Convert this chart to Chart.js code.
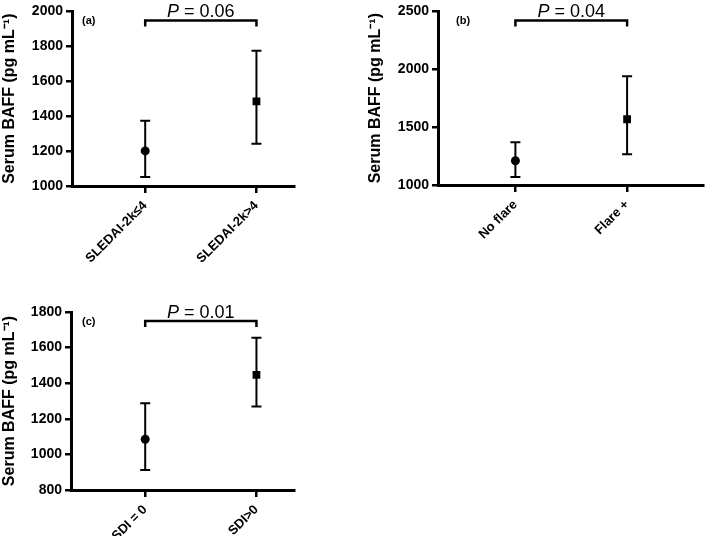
<!DOCTYPE html>
<html>
<head>
<meta charset="utf-8">
<script src="https://cdn.jsdelivr.net/npm/chart.js@4.4.1/dist/chart.umd.min.js"></script>
<style>
  body { margin: 0; background: #fff; }
  #wrap { position: relative; width: 709px; height: 536px; overflow: hidden; }
  canvas { position: absolute; }
</style>
</head>
<body>
<div id="wrap">
  <canvas id="chartA" width="300" height="265" style="left:0;top:0"></canvas>
  <canvas id="chartB" width="343" height="265" style="left:366px;top:0"></canvas>
  <canvas id="chartC" width="300" height="241" style="left:0;top:295px"></canvas>
</div>
<script>
// panel (a)
const categoriesA = ['SLEDAI-2k\u22644', 'SLEDAI-2k>4'];
const meanA = [1201, 1485];
const lowA = [1052, 1242];
const highA = [1374, 1775];
const ticksA = [1000, 1200, 1400, 1600, 1800, 2000];

// panel (b)
const categoriesB = ['No flare', 'Flare +'];
const meanB = [1210, 1568];
const lowB = [1070, 1266];
const highB = [1370, 1940];
const ticksB = [1000, 1500, 2000, 2500];

// panel (c)
const categoriesC = ['SDI = 0', 'SDI>0'];
const meanC = [1085, 1447];
const lowC = [913, 1269];
const highC = [1288, 1656];
const ticksC = [800, 1000, 1200, 1400, 1600, 1800];

const pValues = ['0.06', '0.04', '0.01'];
const panelLabels = ['(a)', '(b)', '(c)'];

// error bars + bracket + panel label
const annotPlugin = {
    id: 'annot',
    beforeDatasetsDraw(chart, args, opts) {
        const ctx = chart.ctx;
        const xs = chart.scales.x, ys = chart.scales.y;
        ctx.save();
        ctx.strokeStyle = '#000';
        ctx.lineWidth = 2;
        opts.low.forEach((lo, i) => {
            const x = xs.getPixelForValue(i + 1);
            const y1 = ys.getPixelForValue(lo);
            const y2 = ys.getPixelForValue(opts.high[i]);
            ctx.beginPath();
            ctx.moveTo(x, y1); ctx.lineTo(x, y2);
            ctx.moveTo(x - 5, y1); ctx.lineTo(x + 5, y1);
            ctx.moveTo(x - 5, y2); ctx.lineTo(x + 5, y2);
            ctx.stroke();
        });
        ctx.restore();
    },
    afterDraw(chart, args, opts) {
        const ctx = chart.ctx;
        const xs = chart.scales.x;
        const top = chart.chartArea.top;
        const x1 = xs.getPixelForValue(1), x2 = xs.getPixelForValue(2);
        ctx.save();
        ctx.strokeStyle = '#000';
        ctx.lineWidth = 2.5;
        ctx.beginPath();
        ctx.moveTo(x1, top + 15); ctx.lineTo(x1, top + 9);
        ctx.lineTo(x2, top + 9); ctx.lineTo(x2, top + 15);
        ctx.stroke();
        // P = value
        ctx.fillStyle = '#000';
        ctx.textBaseline = 'alphabetic';
        const italic = 'italic 18px "Liberation Sans", Arial, sans-serif';
        const normal = '18px "Liberation Sans", Arial, sans-serif';
        ctx.font = italic;
        const wP = ctx.measureText('P').width;
        ctx.font = normal;
        const rest = ' = ' + opts.p;
        const wR = ctx.measureText(rest).width;
        let tx = (x1 + x2) / 2 - (wP + wR) / 2;
        ctx.font = italic;
        ctx.fillText('P', tx, top + 6);
        ctx.font = normal;
        ctx.fillText(rest, tx + wP, top + 6);
        // panel label
        ctx.font = 'bold 11px "Liberation Sans", Arial, sans-serif';
        ctx.fillText(opts.label, chart.chartArea.left + opts.labelDx, top + 13);
        ctx.restore();
    }
};

function makeChart(id, cats, mean, low, high, yTicks, p, label, labelDx, xMin, xMax, yWidth, xHeight, padTop) {
    const font = { family: '"Liberation Sans", Arial, sans-serif', weight: 'bold' };
    return new Chart(document.getElementById(id), {
        type: 'scatter',
        data: {
            datasets: [{
                data: mean.map((v, i) => ({ x: i + 1, y: v })),
                pointStyle: ['circle', 'rect'],
                pointRadius: [4.5, 5.5],
                backgroundColor: '#000',
                borderColor: '#000',
                borderWidth: 0
            }]
        },
        options: {
            responsive: false,
            animation: false,
            layout: { padding: { top: padTop, right: 0, left: 0, bottom: 0 } },
            plugins: {
                legend: { display: false },
                tooltip: { enabled: false },
                annot: { low: low, high: high, p: p, label: label, labelDx: labelDx }
            },
            scales: {
                x: {
                    type: 'linear',
                    min: xMin,
                    max: xMax,
                    afterBuildTicks: s => { s.ticks = [{ value: 1 }, { value: 2 }]; },
                    afterFit: s => { s.height = xHeight; },
                    ticks: {
                        callback: v => cats[v - 1],
                        color: '#000',
                        font: Object.assign({ size: 13 }, font),
                        maxRotation: 45,
                        minRotation: 45,
                        padding: 5
                    },
                    grid: { drawOnChartArea: false, drawTicks: true, tickLength: 7, lineWidth: 2.5, color: '#000' },
                    border: { display: true, color: '#000', width: 3 }
                },
                y: {
                    min: yTicks[0],
                    max: yTicks[yTicks.length - 1],
                    afterBuildTicks: s => { s.ticks = yTicks.map(v => ({ value: v })); },
                    afterFit: s => { s.width = yWidth; },
                    ticks: {
                        callback: v => String(v),
                        color: '#000',
                        font: Object.assign({ size: 14 }, font),
                        padding: 3
                    },
                    grid: { drawOnChartArea: false, drawTicks: true, tickLength: 6, lineWidth: 2.5, color: '#000' },
                    border: { display: true, color: '#000', width: 3 },
                    title: {
                        display: true,
                        text: 'Serum BAFF (pg mL\u207B\u00B9)',
                        color: '#000',
                        font: Object.assign({ size: 16 }, font),
                        padding: { top: 0, bottom: 0 }
                    }
                }
            }
        },
        plugins: [annotPlugin]
    });
}

makeChart('chartA', categoriesA, meanA, lowA, highA, ticksA, pValues[0], panelLabels[0], 10, 0.342, 2.342, 72, 79, 7);
makeChart('chartB', categoriesB, meanB, lowB, highB, ticksB, pValues[1], panelLabels[1], 18, 0.307, 2.684, 72, 80, 7);
makeChart('chartC', categoriesC, meanC, lowC, highC, ticksC, pValues[2], panelLabels[2], 11, 0.333, 2.342, 71, 46, 17);
</script>
</body>
</html>
